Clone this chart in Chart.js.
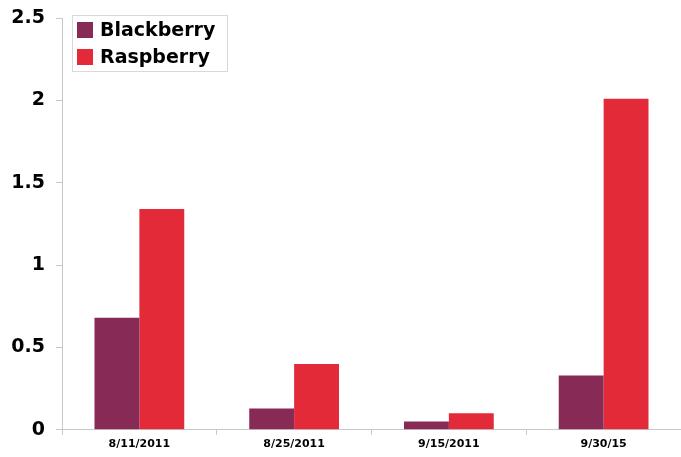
<!DOCTYPE html>
<html>
<head>
<meta charset="utf-8">
<script src="https://cdn.jsdelivr.net/npm/chart.js@4"></script>
<style>
html,body{margin:0;padding:0;background:#fff;}
#wrap{width:681px;height:457px;position:relative;}
</style>
</head>
<body>
<div id="wrap"><canvas id="c" width="681" height="457"></canvas></div>
<script>
const categories = ["8/11/2011", "8/25/2011", "9/15/2011", "9/30/15"];
const blackberry = [0.68, 0.13, 0.05, 0.33];
const raspberry = [1.34, 0.40, 0.10, 2.01];
const seriesNames = ["Blackberry", "Raspberry"];
const colors = ["#872A55", "#E32A38"];

const boxLegend = {
  id: 'boxLegend',
  afterDraw(chart) {
    const ctx = chart.ctx;
    const x0 = 72, y0 = 15, w = 156, h = 57;
    ctx.save();
    ctx.fillStyle = '#fff';
    ctx.fillRect(x0, y0, w, h);
    ctx.strokeStyle = '#d8d8d8';
    ctx.lineWidth = 1;
    ctx.strokeRect(x0 + 0.5, y0 + 0.5, w - 1, h - 1);
    ctx.font = 'bold 19px "DejaVu Sans", Verdana, sans-serif';
    ctx.textBaseline = 'middle';
    chart.data.datasets.forEach((ds, i) => {
      const cy = y0 + 15 + i * 27;
      ctx.fillStyle = ds.backgroundColor;
      ctx.fillRect(x0 + 5, cy - 8, 16, 16);
      ctx.fillStyle = '#000';
      ctx.fillText(ds.label, x0 + 28, cy + 1);
    });
    ctx.restore();
  }
};

new Chart(document.getElementById('c'), {
  type: 'bar',
  data: {
    labels: categories,
    datasets: [
      { label: seriesNames[0], data: blackberry, backgroundColor: colors[0], borderWidth: 0 },
      { label: seriesNames[1], data: raspberry, backgroundColor: colors[1], borderWidth: 0 }
    ]
  },
  options: {
    responsive: false,
    animation: false,
    layout: { padding: { top: 18, right: 0, bottom: 3, left: 0 } },
    plugins: { legend: { display: false }, tooltip: { enabled: false } },
    datasets: { bar: { categoryPercentage: 0.58, barPercentage: 1.0 } },
    scales: {
      x: {
        grid: { display: true, drawOnChartArea: false, color: '#c8c8c8', tickLength: 5, offset: true },
        border: { color: '#c8c8c8' },
        ticks: { color: '#000', font: { family: '"DejaVu Sans", Verdana, sans-serif', size: 11, weight: 'bold' }, padding: 3 }
      },
      y: {
        min: 0, max: 2.5,
        grid: { display: true, drawOnChartArea: false, color: '#c8c8c8', tickLength: 6 },
        border: { color: '#c8c8c8' },
        afterFit(scale) { scale.width = 62; scale.paddingTop = 0; scale.paddingBottom = 0; },
        ticks: {
          stepSize: 0.5, color: '#000',
          font: { family: '"DejaVu Sans", Verdana, sans-serif', size: 19, weight: 'bold' }, padding: 11,
          callback: (v) => String(Number(v.toFixed(1)))
        }
      }
    }
  },
  plugins: [boxLegend]
});
</script>
</body>
</html>
